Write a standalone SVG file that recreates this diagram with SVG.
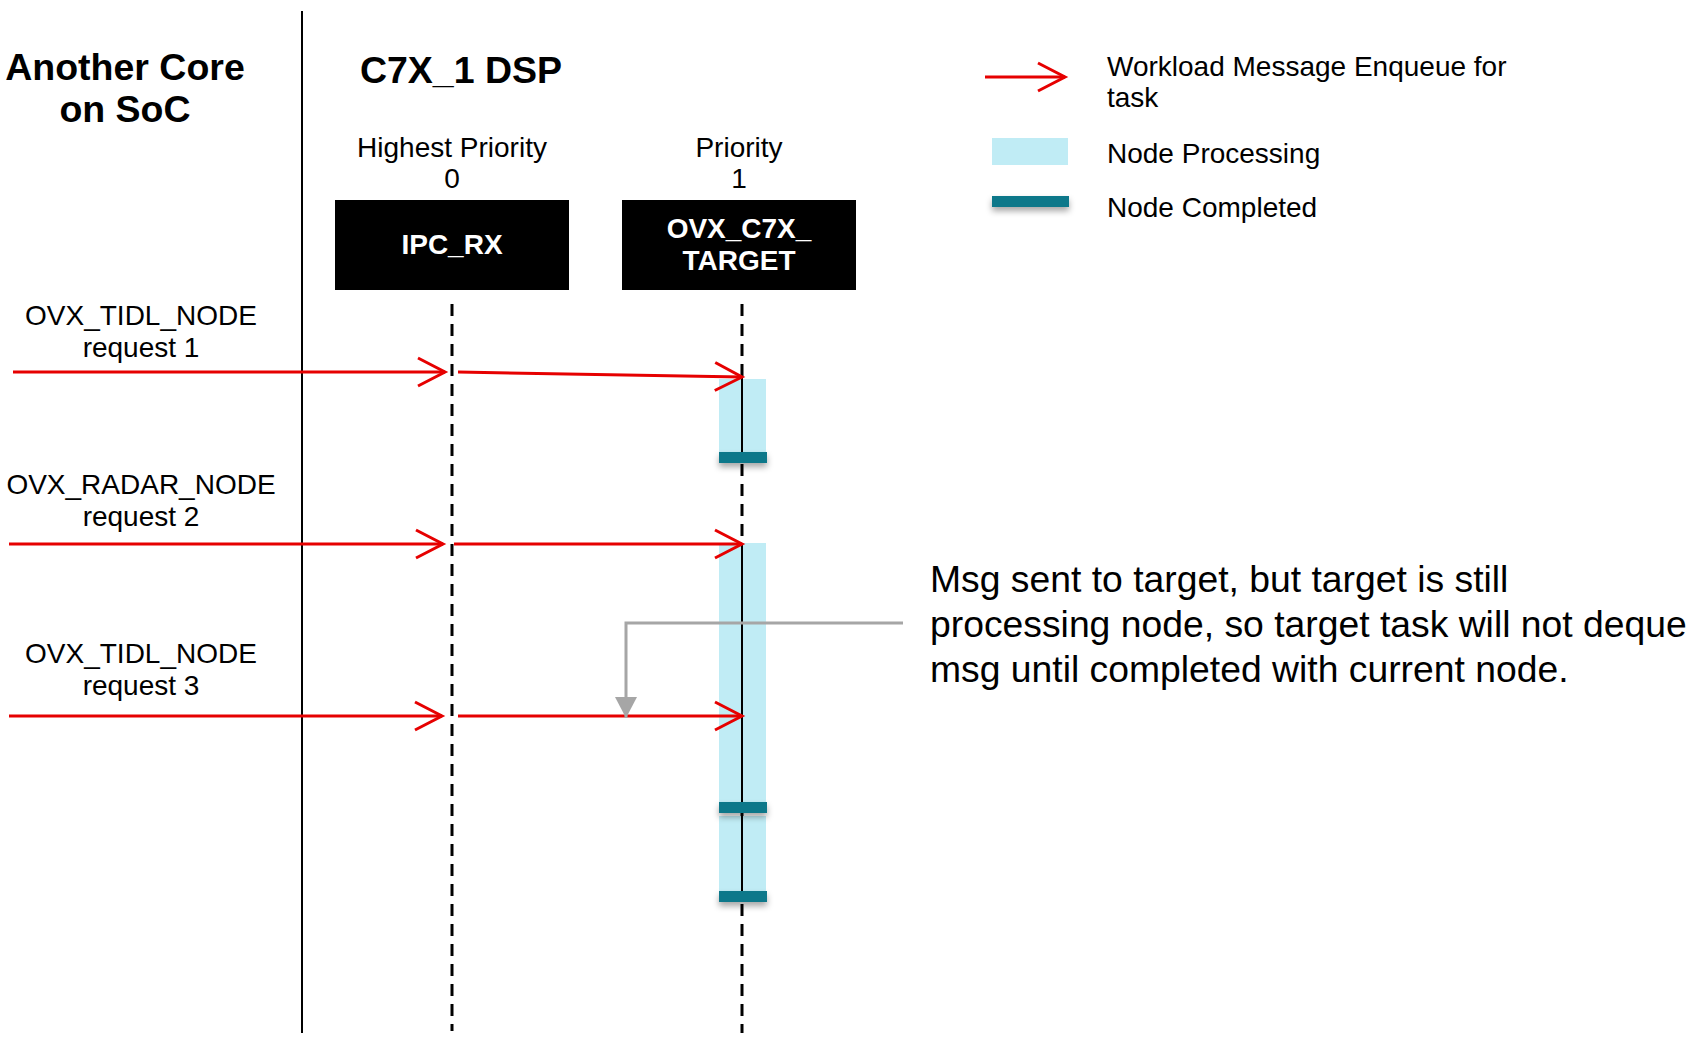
<svg xmlns="http://www.w3.org/2000/svg" width="1702" height="1040" viewBox="0 0 1702 1040">
<style>
  text { font-family: "Liberation Sans", Arial, sans-serif; fill: #000; }
  .t28 { font-size: 28px; }
  .b37 { font-size: 37.5px; font-weight: bold; }
  .box { fill: #000; }
  .boxt { font-size: 28px; font-weight: bold; fill: #fff; }
  .life { stroke: #000; stroke-width: 3; stroke-dasharray: 12 8; fill: none; }
  .solid { stroke: #000; stroke-width: 2; fill: none; }
  .proc { fill: #c0ecf5; }
  .done { fill: #11788a; filter: url(#sh); }
  .msg { stroke: #e60000; stroke-width: 3; fill: none; marker-end: url(#open); }
  .note { stroke: #a6a6a6; stroke-width: 3; fill: none; marker-end: url(#tri); }
  .ann { font-size: 37.3px; }
</style>
<defs>
  <marker id="open" markerUnits="userSpaceOnUse" viewBox="-32 -18 36 36" markerWidth="36" markerHeight="36" refX="0" refY="0" orient="auto">
    <path d="M-27,-14 L0,0 L-27,14" fill="none" stroke="#e60000" stroke-width="3"/>
  </marker>
  <marker id="tri" markerUnits="userSpaceOnUse" viewBox="-24 -14 26 28" markerWidth="26" markerHeight="28" refX="0" refY="0" orient="auto">
    <path d="M-21,-11 L0,0 L-21,11 Z" fill="#a6a6a6"/>
  </marker>
  <filter id="sh" x="-20%" y="-50%" width="140%" height="250%">
    <feDropShadow dx="0" dy="4" stdDeviation="3" flood-color="#000" flood-opacity="0.35"/>
  </filter>
</defs>

<g id="divider">
  <line x1="302" y1="11" x2="302" y2="1033" stroke="#000" stroke-width="2"/>
</g>

<g id="title-another-core">
  <text class="b37" x="125" y="80" text-anchor="middle">Another Core</text>
  <text class="b37" x="125" y="122" text-anchor="middle">on SoC</text>
</g>

<g id="title-c7x">
  <text class="b37" x="461" y="83" text-anchor="middle">C7X_1 DSP</text>
</g>

<g id="node-ipc-rx">
  <text class="t28" x="452" y="157" text-anchor="middle">Highest Priority</text>
  <text class="t28" x="452" y="188" text-anchor="middle">0</text>
  <rect class="box" x="335" y="200" width="234" height="90"/>
  <text class="boxt" x="452" y="254" text-anchor="middle">IPC_RX</text>
  <line class="life" x1="452" y1="304" x2="452" y2="1031"/>
</g>

<g id="node-ovx-c7x-target">
  <text class="t28" x="739" y="157" text-anchor="middle">Priority</text>
  <text class="t28" x="739" y="188" text-anchor="middle">1</text>
  <rect class="box" x="622" y="200" width="234" height="90"/>
  <text class="boxt" x="739" y="238" text-anchor="middle">OVX_C7X_</text>
  <text class="boxt" x="739" y="270" text-anchor="middle">TARGET</text>
  <line class="life" x1="742" y1="304" x2="742" y2="1033"/>
  <rect class="proc" x="719" y="379" width="47" height="76"/>
  <rect class="proc" x="719" y="543" width="47" height="262"/>
  <rect class="proc" x="719" y="816" width="47" height="78"/>
  <line class="solid" x1="742" y1="377" x2="742" y2="454"/>
  <line class="solid" x1="742" y1="544" x2="742" y2="893"/>
  <rect class="done" x="719" y="452" width="48" height="11"/>
  <rect class="done" x="719" y="802" width="48" height="11"/>
  <rect class="done" x="719" y="891" width="48" height="11"/>
</g>

<g id="request-labels">
  <text class="t28" x="141" y="325" text-anchor="middle">OVX_TIDL_NODE</text>
  <text class="t28" x="141" y="357" text-anchor="middle">request 1</text>
  <text class="t28" x="141" y="494" text-anchor="middle">OVX_RADAR_NODE</text>
  <text class="t28" x="141" y="526" text-anchor="middle">request 2</text>
  <text class="t28" x="141" y="663" text-anchor="middle">OVX_TIDL_NODE</text>
  <text class="t28" x="141" y="695" text-anchor="middle">request 3</text>
</g>

<g id="legend">
  <line class="msg" x1="985" y1="77" x2="1065" y2="77"/>
  <text class="t28" x="1107" y="76">Workload Message Enqueue for</text>
  <text class="t28" x="1107" y="107">task</text>
  <rect class="proc" x="992" y="138" width="76" height="27"/>
  <text class="t28" x="1107" y="163">Node Processing</text>
  <rect class="done" x="992" y="196" width="77" height="11"/>
  <text class="t28" x="1107" y="217">Node Completed</text>
</g>

<g id="annotation">
  <text class="ann" x="930" y="592">Msg sent to target, but target is still</text>
  <text class="ann" x="930" y="637">processing node, so target task will not deque</text>
  <text class="ann" x="930" y="682">msg until completed with current node.</text>
</g>

<g id="connectors">
  <line class="msg" x1="13" y1="372" x2="445" y2="372"/>
  <line class="msg" x1="458" y1="372" x2="742" y2="377"/>
  <line class="msg" x1="9" y1="544" x2="443" y2="544"/>
  <line class="msg" x1="454" y1="544" x2="742" y2="544"/>
  <line class="msg" x1="9" y1="716" x2="442" y2="716"/>
  <line class="msg" x1="458" y1="716" x2="742" y2="716"/>
  <path class="note" d="M903,623 H626 V718"/>
</g>
</svg>
